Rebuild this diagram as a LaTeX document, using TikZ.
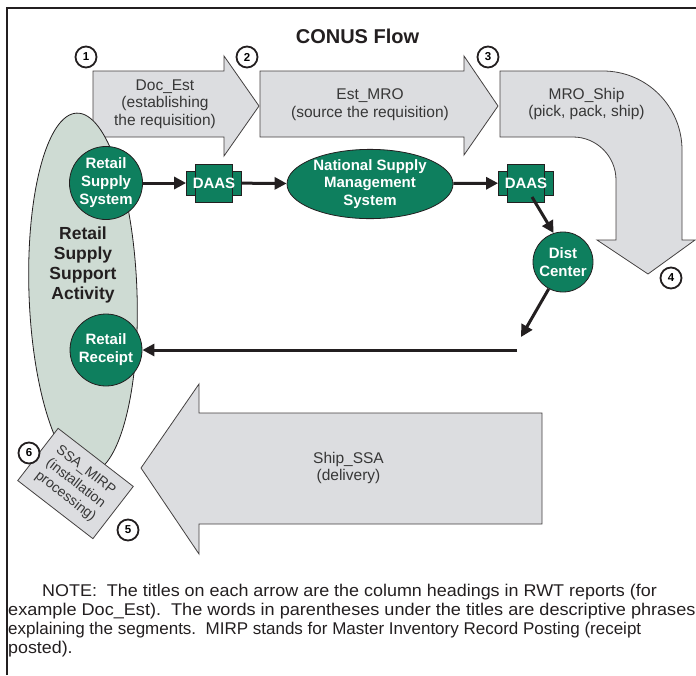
\documentclass[tikz,border=0pt]{standalone}
\usepackage{fontspec}
\usepackage{graphicx}
\setmainfont{Liberation Sans}
\usetikzlibrary{arrows.meta,shapes.geometric}
\definecolor{grn}{RGB}{14,127,94}
\definecolor{arrowgray}{RGB}{220,221,224}
\definecolor{ssagreen}{RGB}{206,219,211}
\definecolor{ink}{RGB}{35,31,32}
\definecolor{txtgray}{RGB}{55,55,55}
\begin{document}
\frenchspacing
\begin{tikzpicture}[x=1pt,y=-1pt,
  bigarrow/.style={fill=arrowgray, draw=ink!85, line width=0.8pt},
  arrowtext/.style={align=center, text=txtgray, font=\fontsize{15.5}{17.5}\selectfont, inner sep=0pt},
  greennode/.style={circle, fill=grn, draw=ink, line width=0.8pt, text=white, font=\bfseries\fontsize{15}{18}\selectfont, align=center, inner sep=0pt},
  daaswide/.style={rectangle, fill=grn, draw=ink, line width=0.8pt, minimum width=55pt, minimum height=24pt, inner sep=0pt},
  daastall/.style={rectangle, fill=grn, draw=ink, line width=0.8pt, minimum width=37pt, minimum height=38pt, inner sep=0pt},
  daastext/.style={text=white, font=\bfseries\fontsize{15}{18}\selectfont, inner sep=0pt},
  num/.style={circle, draw=ink, line width=1.8pt, fill=white, minimum size=21pt, inner sep=0pt, font=\bfseries\fontsize{11.5}{13}\selectfont},
  conn/.style={draw=ink, line width=3pt, -{Triangle[length=12pt,width=12pt]}},
  notetext/.style={anchor=base west, inner sep=0pt, text=ink, font=\fontsize{17}{19}\selectfont}
]
\useasboundingbox (0,0) rectangle (696,675);
\fill[white] (0,0) rectangle (696,675);
% frame
\draw[ink, line width=1.2pt] (7,675) -- (7,8) -- (696,8);

% title
\node[font=\bfseries\fontsize{20}{24}\selectfont, text=ink, inner sep=0pt] (title) at (357.5,36) {CONUS Flow};

% big arrows
\draw[bigarrow] (93,71) -- (224,71) -- (224,56) -- (259,106) -- (224,156) -- (224,137) -- (93,137) -- cycle;
\draw[bigarrow] (260,71) -- (464,71) -- (464,56) -- (498,106) -- (464,155) -- (464,137) -- (260,137) -- cycle;
\draw[bigarrow] (500,71) -- (603,71) .. controls (646.6,71) and (682,106.4) .. (682,150)
  -- (682,240) -- (695,240) -- (648,274) -- (597,240) -- (616,240) -- (616,180)
  .. controls (616,156.3) and (596.7,137) .. (573,137) -- (500,137) -- cycle;
\draw[bigarrow] (542,413) -- (199,413) -- (199,384) -- (141,468) -- (199,554) -- (199,524) -- (542,524) -- cycle;

\node[arrowtext] (t1) at (165,104) {Doc\_Est\\(establishing\\the requisition)};
\node[arrowtext] (t2) at (370,104.5) {Est\_MRO\\(source the requisition)};
\node[arrowtext] (t3) at (586.5,104) {MRO\_Ship\\(pick, pack, ship)};
\node[arrowtext] (t5) at (348.5,468) {Ship\_SSA\\(delivery)};

% retail supply support activity
\draw[fill=ssagreen, draw=ink, line width=0.8pt, rotate around={2:(83,293)}] (83,293) ellipse [x radius=54, y radius=180];
\node[align=center, text=ink, font=\bfseries\fontsize{17.5}{20}\selectfont, inner sep=0pt] (rssa) at (83,265) {Retail\\Supply\\Support\\Activity};

% green nodes
\node[greennode, minimum size=70pt] (rss) at (106,183) {Retail\\Supply\\System};
\node[greennode, minimum size=72pt] (rr) at (106,350) {Retail\\Receipt};
\node[greennode, minimum size=60pt] (dc) at (563,262) {Dist\\Center};
\node[ellipse, fill=grn, draw=ink, line width=0.8pt, text=white, font=\bfseries\fontsize{15}{17.5}\selectfont, align=center, inner sep=0pt, minimum width=166pt, minimum height=66pt] (nsms) at (370,184) {National Supply\\Management\\System};

\node[daaswide] (d1w) at (214,183) {};
\node[daastall] (d1) at (214,183) {};
\node[daastext] (d1t) at (214,183) {DAAS};
\node[daaswide] (d2w) at (526,183) {};
\node[daastall] (d2) at (526,183) {};
\node[daastext] (d2t) at (526,183) {DAAS};

% connectors
\coordinate (c1) at (521,337);
\coordinate (c2) at (517,350);
\draw[conn] (rss) -- (d1w);
\draw[conn] (d1w) -- (nsms);
\draw[conn] (nsms) -- (d2w);
\draw[conn] ([shift={(6,14)}]d2.center) -- (dc.108);
\draw[conn] (dc.242) -- (c1);
\draw[conn] (c2) -- (rr);

% SSA_MIRP box
\node[rectangle, rotate=-37.7, fill=arrowgray, draw=ink!85, line width=0.8pt, minimum width=95pt, minimum height=66pt, align=center, text=txtgray, font=\fontsize{14}{16.5}\selectfont, inner sep=0pt] (ssa) at (75.5,483.5) {SSA\_MIRP\\(installation\\processing)};

% numbers
\node[num] (n1) at (86,57) {1};
\node[num] (n2) at (247,57) {2};
\node[num] (n3) at (488,57) {3};
\node[num] (n4) at (671,278) {4};
\node[num] (n5) at (128,530) {5};
\node[num] (n6) at (29,453) {6};

% note
\node[notetext] (note1) at (42,596) {\scalebox{1.055}[1]{NOTE:\ \ The titles on each arrow are the column headings in RWT reports (for}};
\node[notetext] (note2) at (8,615) {\scalebox{1.065}[1]{example Doc\_Est).\ \ The words in parentheses under the titles are descriptive phrases}};
\node[notetext] (note3) at (8,634) {explaining the segments.\ \ MIRP stands for Master Inventory Record Posting (receipt};
\node[notetext] (note4) at (8,653) {\scalebox{1.05}[1]{posted).}};
\end{tikzpicture}
\end{document}
